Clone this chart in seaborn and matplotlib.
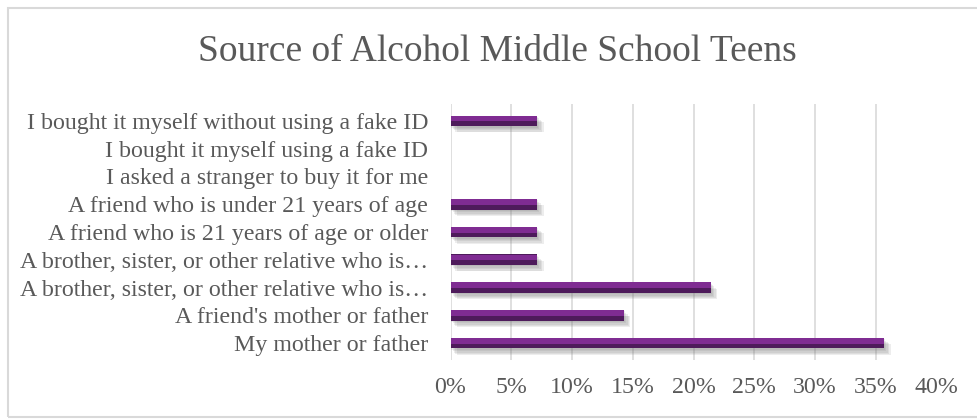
import matplotlib
matplotlib.use("Agg")
import matplotlib.pyplot as plt
import matplotlib.patheffects as pe
from matplotlib.patches import Rectangle
import seaborn as sns
import pandas as pd

# Survey answers (share of respondents, %)
sources = [
    "I bought it myself without using a fake ID",
    "I bought it myself using a fake ID",
    "I asked a stranger to buy it for me",
    "A friend who is under 21 years of age",
    "A friend who is 21 years of age or older",
    "A brother, sister, or other relative who is\u2026",
    "A brother, sister, or other relative who is\u2026",
    "A friend's mother or father",
    "My mother or father",
]
shares = [7.14, 0, 0, 7.14, 7.14, 7.14, 21.43, 14.29, 35.71]
x_ticks = [0, 5, 10, 15, 20, 25, 30, 35, 40]
x_tick_labels = ["0%", "5%", "10%", "15%", "20%", "25%", "30%", "35%", "40%"]
title = "Source of Alcohol Middle School Teens"

# two answers share the same (shortened) label, so rows are keyed by position
df = pd.DataFrame({"row": [f"r{i}" for i in range(len(sources))], "share": shares})

sns.set_theme(style="white")
plt.rcParams["font.family"] = ["Liberation Serif", "DejaVu Serif"]
text_grey = "#595959"
dark_purple = "#4E1B5B"
light_purple = "#7F2C92"
bar_w = 0.38

fig = plt.figure(figsize=(9.77, 4.19), dpi=100)
ax = fig.add_axes([450.5 / 977, 1 - 360 / 419, 486 / 977, 256 / 419])

sns.barplot(data=df, x="share", y="row", orient="y", color=dark_purple,
            saturation=1, width=bar_w, ax=ax, zorder=3, linewidth=0)

# soft drop shadow under each bar
shadow = [pe.SimplePatchShadow(offset=(dx, -dy), shadow_rgbFace="#707070", alpha=0.12)
          for dx, dy in [(0.5, 1), (1.5, 2), (2.5, 3), (3.5, 4), (4.5, 4.5)]]
for p in ax.patches:
    if p.get_width() > 0:
        p.set_path_effects(shadow + [pe.Normal()])

# lighter upper half gives the bevelled look
ypos = range(len(shares))
ax.barh([y - bar_w * 0.22 for y in ypos], shares, height=bar_w * 0.54,
        color=light_purple, zorder=4, linewidth=0)

ax.set_yticks(list(ypos))
ax.set_yticklabels(sources)
ax.set_xlim(0, 40)
ax.set_xticks(x_ticks)
ax.set_xticklabels(x_tick_labels)
ax.set_xlabel("")
ax.set_ylabel("")
ax.xaxis.grid(True, color="#D9D9D9", linewidth=1.2, zorder=0)
ax.set_axisbelow(True)
for s in ax.spines.values():
    s.set_visible(False)
ax.tick_params(axis="x", length=0, pad=12, labelsize=17.2, labelcolor=text_grey)
ax.tick_params(axis="y", length=0, pad=16, labelsize=17.2, labelcolor=text_grey)

fig.text(497 / 977, 1 - 52 / 419, title, ha="center", va="center",
         fontsize=27, color=text_grey)

fig.patches.append(Rectangle((8 / 977, 2 / 419), 1.0, 409 / 419,
                             transform=fig.transFigure, fill=False,
                             edgecolor="#D9D9D9", linewidth=1.5))

fig.savefig("out.png", dpi=100, facecolor="white")
